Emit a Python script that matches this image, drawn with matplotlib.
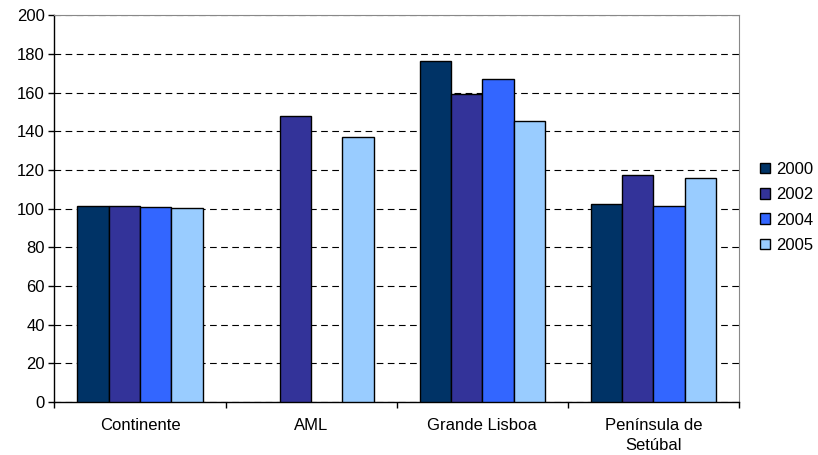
import numpy as np
import matplotlib.pyplot as plt
from matplotlib.ticker import FixedLocator

plt.rcParams['font.family'] = ['Liberation Sans', 'DejaVu Sans']

categories = ['Continente', 'AML', 'Grande Lisboa', 'Península de\nSetúbal']
years = ['2000', '2002', '2004', '2005']
v2000 = [101.5, np.nan, 176.2, 102.4]
v2002 = [101.5, 148.2, 159.3, 117.3]
v2004 = [101.0, np.nan, 167.0, 101.6]
v2005 = [100.3, 137.3, 145.6, 115.9]
colors = ['#003366', '#333399', '#3366FF', '#99CCFF']

fig = plt.figure(figsize=(8.18, 4.55), dpi=100)
ax = fig.add_axes([0.0666, 0.117, 0.8368, 0.849])

x = np.arange(len(categories))
w = 0.183
series = [v2000, v2002, v2004, v2005]
for i, (vals, c, yr) in enumerate(zip(series, colors, years)):
    ax.bar(x + (i - 1.5) * w, vals, width=w, color=c, edgecolor='black',
           linewidth=1.0, label=yr, zorder=3)

ax.set_xlim(-0.5, len(categories) - 0.5)
ax.set_ylim(0, 200)
ax.set_yticks(np.arange(0, 201, 20))
ax.yaxis.grid(True, color='black', linestyle=(0, (6, 4)), linewidth=0.8)
ax.set_axisbelow(True)

ax.set_xticks(x)
ax.set_xticklabels(categories, linespacing=1.4)
ax.xaxis.set_minor_locator(FixedLocator(np.arange(-0.5, len(categories), 1.0)))
ax.tick_params(axis='x', which='major', length=0, pad=12, labelsize=12)
ax.tick_params(axis='x', which='minor', length=4, width=1, direction='out')
ax.tick_params(axis='y', length=4, width=1, direction='out', labelsize=12, pad=3)

for s in ['top', 'right']:
    ax.spines[s].set_color('#888888')
    ax.spines[s].set_linewidth(0.8)
for s in ['left', 'bottom']:
    ax.spines[s].set_color('black')
    ax.spines[s].set_linewidth(1)

fig.legend(loc='center left', bbox_to_anchor=(0.929, 0.544), frameon=False,
           fontsize=12, handlelength=0.6, handleheight=0.6, handletextpad=0.35,
           labelspacing=0.62, borderpad=0, borderaxespad=0)

fig.savefig('out.png', dpi=100)
